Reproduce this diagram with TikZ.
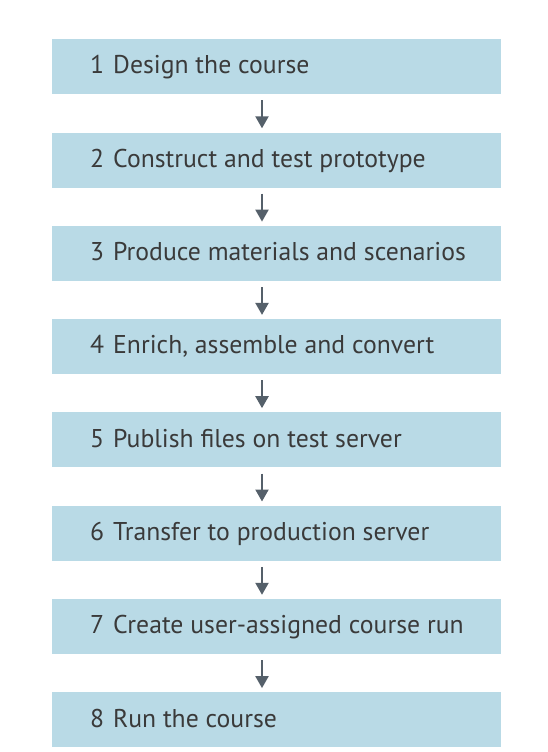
\documentclass[tikz,border=0pt]{standalone}
\usepackage{fontspec}
\setmainfont{PT Sans}
\usetikzlibrary{arrows.meta}
\definecolor{boxblue}{HTML}{B9DAE6}
\definecolor{txtgray}{HTML}{3A3A3A}
\definecolor{arrgray}{HTML}{55606A}
\tikzset{
  stepbox/.style={fill=boxblue, draw=none, minimum width=449pt, minimum height=55pt, inner sep=0pt, anchor=north west},
  steptext/.style={anchor=base west, text=txtgray, font=\fontsize{25.7}{30}\selectfont, inner sep=0pt},
  flow/.style={draw=arrgray, line width=2.2pt, -{Triangle[length=12pt,width=13pt]}, shorten <=6pt, shorten >=4pt}
}
\begin{document}
\begin{tikzpicture}[x=1pt,y=-1pt]
\useasboundingbox (0,0) rectangle (548,752);
\foreach \i/\t in {1/Design the course,2/Construct and test prototype,3/Produce materials and scenarios,4/{Enrich, assemble and convert},5/Publish files on test server,6/Transfer to production server,7/Create user-assigned course run,8/Run the course}{
  \node[stepbox] (b\i) at (52,{39+93.3*(\i-1)}) {};
  \node[steptext] (t\i) at (90,{39+93.3*(\i-1)+35}) {\i\hspace{9pt}\t};
}
\foreach \i [evaluate=\i as \j using int(\i+1)] in {1,...,7}{
  \draw[flow] (b\i.south -| 262,0) -- (b\j.north -| 262,0);
}
\end{tikzpicture}
\end{document}
